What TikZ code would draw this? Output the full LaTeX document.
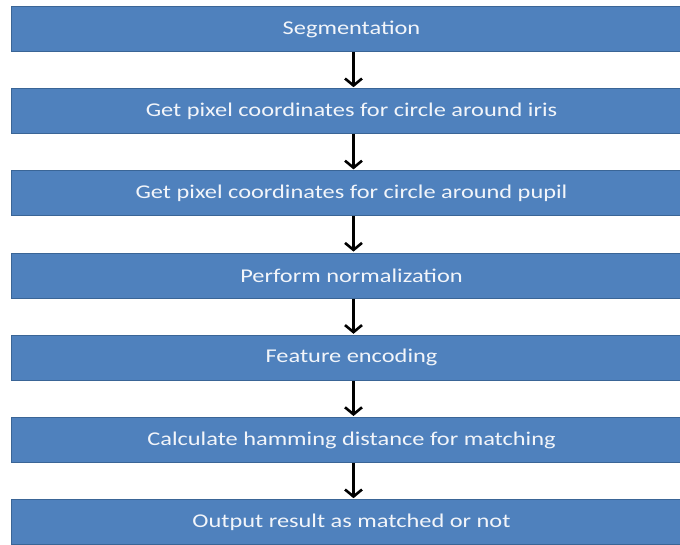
\documentclass[tikz,border=0pt]{standalone}
\usepackage{fontspec}
\setmainfont{Carlito}
\usetikzlibrary{arrows.meta}
\definecolor{boxfill}{HTML}{4F81BD}
\definecolor{boxline}{HTML}{3A6596}
\definecolor{boxtext}{HTML}{F2F5FA}
\newcommand\widetext[1]{\scalebox{1.25}[1]{#1}}
\tikzset{
  stepbox/.style={draw=boxline, line width=1pt, fill=boxfill, text=boxtext,
    minimum width=680pt, minimum height=45pt, anchor=north west,
    inner sep=0pt, font=\fontsize{19.5}{22}\selectfont},
  flow/.style={draw=black, line width=2.6pt,
    -{Straight Barb[length=7pt,width=17pt,line width=2.6pt]}, shorten >=1pt}
}
\begin{document}
\begin{tikzpicture}[x=1pt,y=-1pt]
\useasboundingbox (0,0) rectangle (680,545);
\clip (0,0) rectangle (680,545);
\node[stepbox] (b1) at (11,6) {\widetext{Segmentation}};
\node[stepbox] (b2) at (11,88.2) {\widetext{Get pixel coordinates for circle around iris}};
\node[stepbox] (b3) at (11,170.4) {\widetext{Get pixel coordinates for circle around pupil}};
\node[stepbox] (b4) at (11,252.6) {\widetext{Perform normalization}};
\node[stepbox] (b5) at (11,334.8) {\widetext{Feature encoding}};
\node[stepbox] (b6) at (11,417) {\widetext{Calculate hamming distance for matching}};
\node[stepbox] (b7) at (11,499.2) {\widetext{Output result as matched or not}};
\foreach \a/\b in {b1/b2,b2/b3,b3/b4,b4/b5,b5/b6,b6/b7}{
  \draw[flow] ([xshift=2pt]\a.south) -- ([xshift=2pt]\b.north);
}
\end{tikzpicture}
\end{document}
